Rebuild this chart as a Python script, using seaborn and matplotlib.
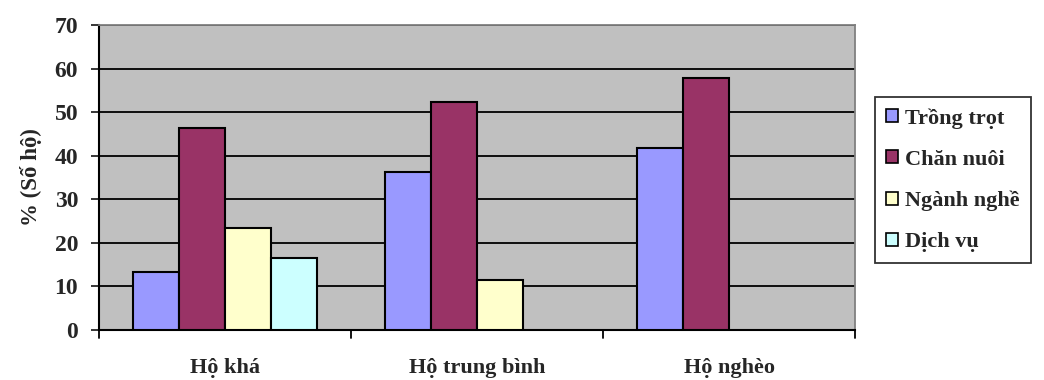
import pandas as pd
import numpy as np
import matplotlib
matplotlib.use("Agg")
import matplotlib.pyplot as plt
import seaborn as sns

# Data
groups = ["Hộ khá", "Hộ trung bình", "Hộ nghèo"]
sectors = ["Trồng trọt", "Chăn nuôi", "Ngành nghề", "Dịch vụ"]
trong_trot = [13.4, 36.2, 41.8]
chan_nuoi = [46.4, 52.4, 57.9]
nganh_nghe = [23.4, 11.5, np.nan]
dich_vu = [16.6, np.nan, np.nan]
colors = ["#9999FF", "#993366", "#FFFFCC", "#CCFFFF"]

df = pd.DataFrame({
    "group": groups * 4,
    "sector": [s for s in sectors for _ in groups],
    "value": trong_trot + chan_nuoi + nganh_nghe + dich_vu,
}).dropna()

sns.set_style("white")
plt.rcParams["font.family"] = ["Liberation Serif", "DejaVu Serif"]
plt.rcParams["font.weight"] = "bold"

fig = plt.figure(figsize=(10.44, 3.8), dpi=100)
ax = fig.add_axes([0.0948, 0.1316, 0.7242, 0.8026])
ax.set_facecolor("#C0C0C0")

sns.barplot(data=df, x="group", y="value", hue="sector", order=groups,
            hue_order=sectors, palette=colors, width=0.73, gap=0,
            edgecolor="black", linewidth=1.5, saturation=1, ax=ax, zorder=3)

ax.set_ylim(0, 70)
ax.set_xlim(-0.5, 2.5)
ax.set_yticks(range(0, 71, 10))
for y in range(10, 71, 10):
    ax.axhline(y, color="black", linewidth=1.3, zorder=1)

ax.set_xticks([0, 1, 2])
ax.set_xticklabels(groups, fontsize=16, fontweight="bold")
ax.tick_params(axis="x", length=0, pad=20)
for xb in [-0.5, 0.5, 1.5, 2.5]:
    ax.plot([xb, xb], [0, -0.025], transform=ax.get_xaxis_transform(),
            color="black", linewidth=1.3, clip_on=False)
ax.tick_params(axis="y", direction="out", length=6, width=1.3,
               labelsize=17, pad=9, left=True)
for lab in ax.get_yticklabels():
    lab.set_fontweight("bold")

ax.set_xlabel("")
ax.set_ylabel("% (Số hộ)", fontsize=16.5, fontweight="bold", labelpad=9)

for side in ["left", "bottom"]:
    ax.spines[side].set_color("black")
    ax.spines[side].set_linewidth(1.5)
for side in ["top", "right"]:
    ax.spines[side].set_color("#808080")
    ax.spines[side].set_linewidth(1.3)

leg = ax.legend(loc="upper left", bbox_to_anchor=(0.838, 0.745),
                bbox_transform=fig.transFigure, frameon=True, fancybox=False,
                edgecolor="black", prop={"size": 16, "weight": "bold"},
                handlelength=0.55, handleheight=0.55, handletextpad=0.3,
                labelspacing=0.95, borderpad=0.5, borderaxespad=0, title=None)
leg.get_frame().set_linewidth(1.3)
for h in leg.legend_handles:
    h.set_edgecolor("black")
    h.set_linewidth(1.2)

fig.savefig("out.png", dpi=100)
